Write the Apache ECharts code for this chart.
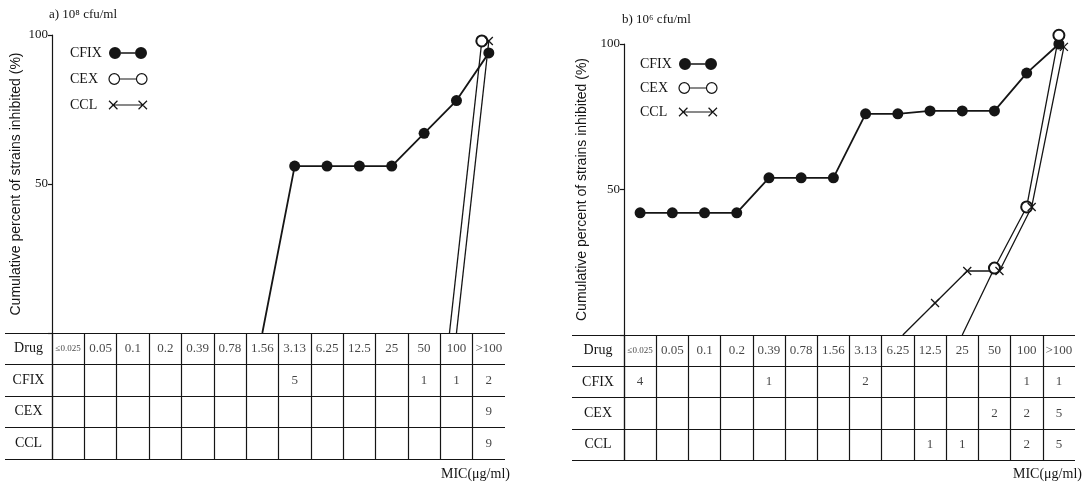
<!DOCTYPE html>
<html>
<head>
<meta charset="utf-8">
<script src="https://cdn.jsdelivr.net/npm/echarts@6/dist/echarts.min.js"></script>
<style>
html, body { margin: 0; padding: 0; background: #fff; }
#chart { width: 1087px; height: 484px; }
</style>
</head>
<body>
<div id="chart"></div>
<script>
// MIC columns (ug/ml) and table rows
const mics = ['≤0.025', '0.05', '0.1', '0.2', '0.39', '0.78', '1.56', '3.13', '6.25', '12.5', '25', '50', '100', '>100'];
const rowNames = ['Drug', 'CFIX', 'CEX', 'CCL'];

// a) 10^8 cfu/ml : cumulative percent inhibited (0 = start of line, no marker)
const cfixA = [null, null, null, null, null, null, 0, 56, 56, 56, 56, 67, 78, 94];
const cexA = [null, null, null, null, null, null, null, null, null, null, null, null, 0, 98];
const cclA = [null, null, null, null, null, null, null, null, null, null, null, null, 0, 98];
// a) number of strains per MIC
const cfixCountA = [null, null, null, null, null, null, null, 5, null, null, null, 1, 1, 2];
const cexCountA = [null, null, null, null, null, null, null, null, null, null, null, null, null, 9];
const cclCountA = [null, null, null, null, null, null, null, null, null, null, null, null, null, 9];

// b) 10^6 cfu/ml
const cfixB = [42, 42, 42, 42, 54, 54, 54, 76, 76, 77, 77, 77, 90, 100];
const cexB = [null, null, null, null, null, null, null, null, null, null, 0, 23, 44, 103];
const cclB = [null, null, null, null, null, null, null, null, 0, 11, 22, 22, 44, 99];
const cfixCountB = [4, null, null, null, 1, null, null, 2, null, null, null, null, 1, 1];
const cexCountB = [null, null, null, null, null, null, null, null, null, null, null, 2, 2, 5];
const cclCountB = [null, null, null, null, null, null, null, null, null, 1, 1, null, 2, 5];

const ink = '#151515';
const serif = '"Liberation Serif", "DejaVu Serif", serif';
const sans = '"Liberation Sans", Arial, sans-serif';

// legend icons: two markers joined by a line
const iconFilled = 'path://M0,6A6,6,0,1,0,12,6A6,6,0,1,0,0,6Z M12,5.2H26V6.8H12Z M26,6A6,6,0,1,0,38,6A6,6,0,1,0,26,6Z';
const iconOpen = 'path://M1,6A5,5,0,1,0,11,6A5,5,0,1,0,1,6Z M11,6H27 M27,6A5,5,0,1,0,37,6A5,5,0,1,0,27,6Z';
const iconCross = 'path://M1,2L9,10M1,10L9,2M5,6H33M29,2L37,10M29,10L37,2';
const crossSymbol = 'path://M0,0L10,10M0,10L10,0';

// the CEX and CCL curves are drawn side by side in the original,
// so one of them sits on a copy of the grid nudged a few pixels
const panels = [
  {
    title: 'a) 10⁸ cfu/ml', titleLeft: 44, titleTop: 3,
    left: 52, width: 453, lineTop: 35, lineHeight: 298,
    tableTop: 333, tableHeight: 126, drugWidth: 47,
    nameGap: 29, legendLeft: 65, legendTop: 41, legendGap: 12,
    micLeft: 436, nudged: 'CEX', nudge: -7,
    lines: [cfixA, cexA, cclA],
    counts: [cfixCountA, cexCountA, cclCountA]
  },
  {
    title: 'b) 10⁶ cfu/ml', titleLeft: 617, titleTop: 8,
    left: 624, width: 451, lineTop: 44, lineHeight: 291,
    tableTop: 335, tableHeight: 125, drugWidth: 52,
    nameGap: 35, legendLeft: 635, legendTop: 52, legendGap: 10,
    micLeft: 1008, nudged: 'CCL', nudge: 5,
    lines: [cfixB, cexB, cclB],
    counts: [cfixCountB, cexCountB, cclCountB]
  }
];

function lineData(arr) {
  return arr.map(v => v === 0 ? { value: 0, symbol: 'none' } : v);
}

const option = {
  animation: false,
  backgroundColor: '#fff',
  title: [], legend: [], grid: [], xAxis: [], yAxis: [], series: []
};

panels.forEach((p, k) => {
  const gLine = k * 3, gTable = k * 3 + 1, gNudge = k * 3 + 2;

  option.title.push({
    text: p.title, left: p.titleLeft, top: p.titleTop,
    textStyle: { fontFamily: serif, fontSize: 13, fontWeight: 'normal', color: ink }
  });
  option.title.push({
    text: 'MIC(μg/ml)', left: p.micLeft, top: 462,
    textStyle: { fontFamily: serif, fontSize: 14, fontWeight: 'normal', color: ink }
  });

  option.legend.push({
    left: p.legendLeft, top: p.legendTop, orient: 'vertical', align: 'right',
    itemWidth: 38, itemHeight: 12, itemGap: p.legendGap, selectedMode: false,
    formatter: name => '{a|' + name + '}',
    textStyle: {
      fontFamily: serif, fontSize: 14, color: ink,
      rich: { a: { width: 34, align: 'left', fontFamily: serif, fontSize: 14, color: ink } }
    },
    data: [
      { name: 'CFIX', icon: iconFilled, itemStyle: { color: ink, borderWidth: 0 } },
      { name: 'CEX', icon: iconOpen, itemStyle: { color: '#fff', borderColor: ink, borderWidth: 1.2 } },
      { name: 'CCL', icon: iconCross, itemStyle: { color: 'rgba(0,0,0,0)', borderColor: ink, borderWidth: 1.2 } }
    ]
  });

  // curve area, table below it, and the nudged copy of the curve area
  option.grid.push({ left: p.left, width: p.width, top: p.lineTop, height: p.lineHeight });
  option.grid.push({ left: p.left, width: p.width, top: p.tableTop, height: p.tableHeight });
  option.grid.push({ left: p.left + p.nudge, width: p.width, top: p.lineTop, height: p.lineHeight });

  option.xAxis.push({ type: 'category', gridIndex: gLine, data: mics, show: false });
  option.yAxis.push({
    type: 'value', gridIndex: gLine, min: 0, max: 100, interval: 50,
    name: 'Cumulative percent of strains inhibited (%)', nameLocation: 'middle', nameGap: p.nameGap,
    nameTextStyle: { fontFamily: sans, fontSize: 14, color: ink },
    axisLine: { show: true, lineStyle: { color: ink, width: 1.2 } },
    axisTick: { show: true, length: 4, lineStyle: { color: ink, width: 1.2 } },
    axisLabel: { margin: 4, fontFamily: serif, fontSize: 13, color: ink, formatter: v => v === 0 ? '' : v },
    splitLine: { show: false }
  });

  const tableLine = { color: ink, width: 1.2 };
  option.xAxis.push({
    type: 'category', gridIndex: gTable, data: mics, position: 'top',
    axisLine: { show: false }, axisTick: { show: false }, axisLabel: { show: false },
    splitLine: { show: true, interval: 0, showMaxLine: false, lineStyle: tableLine }
  });
  option.yAxis.push({
    type: 'category', gridIndex: gTable, data: rowNames, inverse: true,
    axisLine: { show: true, lineStyle: tableLine },
    axisTick: { show: true, interval: 0, length: p.drugWidth, lineStyle: tableLine },
    axisLabel: { interval: 0, margin: p.drugWidth / 2, align: 'center', fontFamily: serif, fontSize: 14, color: ink },
    splitLine: { show: true, interval: 0, lineStyle: tableLine }
  });

  option.xAxis.push({ type: 'category', gridIndex: gNudge, data: mics, show: false });
  option.yAxis.push({ type: 'value', gridIndex: gNudge, min: 0, max: 100, show: false });

  const onGrid = name => name === p.nudged ? gNudge : gLine;

  // curves
  option.series.push({
    name: 'CFIX', type: 'line', xAxisIndex: gLine, yAxisIndex: gLine, data: lineData(p.lines[0]),
    symbol: 'circle', symbolSize: 11, showAllSymbol: true, clip: false,
    itemStyle: { color: ink }, lineStyle: { color: ink, width: 1.8 }
  });
  option.series.push({
    name: 'CEX', type: 'line', xAxisIndex: onGrid('CEX'), yAxisIndex: onGrid('CEX'), data: lineData(p.lines[1]),
    symbol: 'emptyCircle', symbolSize: 11, showAllSymbol: true, clip: false,
    itemStyle: { color: ink, borderWidth: 1.2 }, lineStyle: { color: ink, width: 1.3 }
  });
  option.series.push({
    name: 'CCL', type: 'line', xAxisIndex: onGrid('CCL'), yAxisIndex: onGrid('CCL'), data: lineData(p.lines[2]),
    symbol: crossSymbol, symbolSize: 8, showAllSymbol: true, clip: false,
    itemStyle: { color: 'rgba(0,0,0,0)', borderColor: ink, borderWidth: 1.3 }, lineStyle: { color: ink, width: 1.3 }
  });

  // table text: header MIC row plus strain counts
  const cells = [];
  mics.forEach((m, i) => cells.push([i, 0, m]));
  p.counts.forEach((arr, r) => {
    arr.forEach((c, i) => { if (c !== null) cells.push([i, r + 1, String(c)]); });
  });
  option.series.push({
    type: 'scatter', xAxisIndex: gTable, yAxisIndex: gTable, data: cells,
    symbolSize: 1, itemStyle: { color: 'rgba(0,0,0,0)' }, silent: true,
    label: {
      show: true, position: 'inside', fontFamily: serif, fontSize: 13, color: ink,
      formatter: d => d.value[2] === '≤0.025' ? '{s|≤0.025}' : d.value[2],
      rich: { s: { fontSize: 9, fontFamily: serif, color: ink } }
    }
  });
});

const myChart = echarts.init(document.getElementById('chart'));
myChart.setOption(option);
</script>
</body>
</html>
